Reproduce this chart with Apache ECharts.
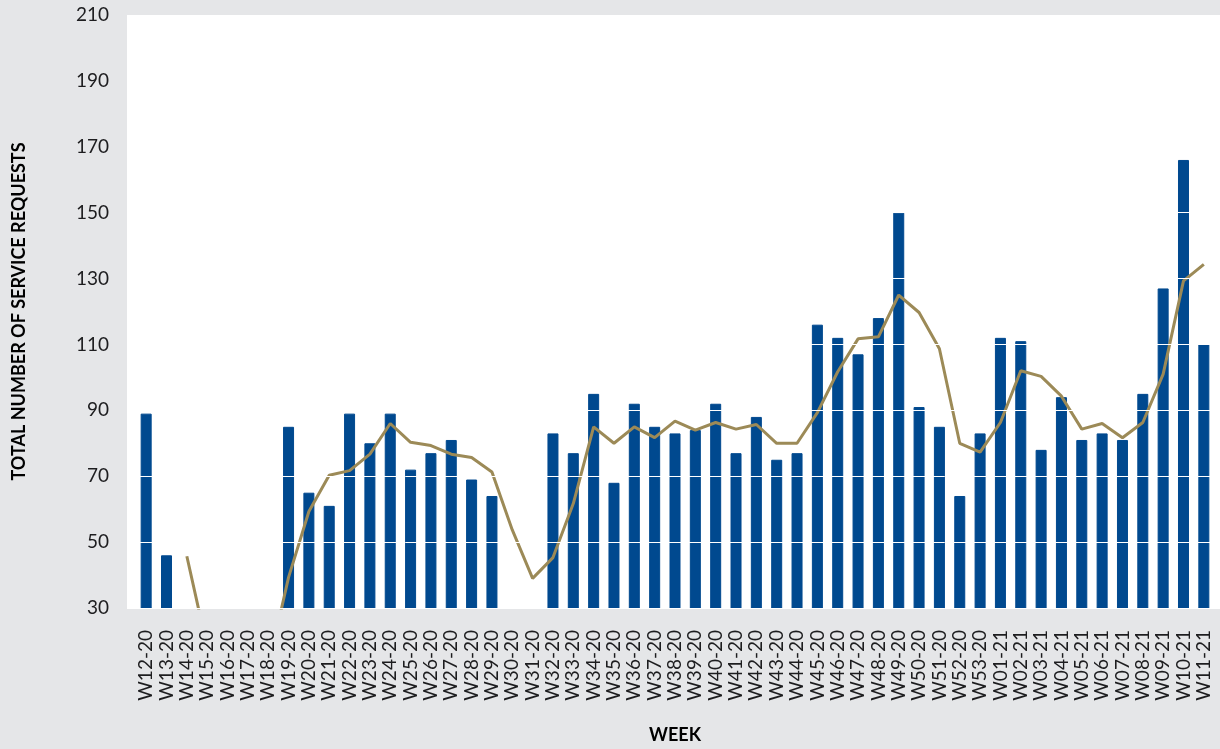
<!DOCTYPE html>
<html>
<head>
<meta charset="utf-8">
<title>Service requests per week</title>
<script src="https://cdn.jsdelivr.net/npm/echarts@6/dist/echarts.min.js"></script>
<style>
  html, body { margin: 0; padding: 0; background: #e5e6e8; }
  #chart { width: 1220px; height: 749px; }
</style>
</head>
<body>
<div id="chart"></div>
<script>
// Week labels along the category axis
const weeks = [
  'W12-20', 'W13-20', 'W14-20', 'W15-20', 'W16-20', 'W17-20', 'W18-20', 'W19-20',
  'W20-20', 'W21-20', 'W22-20', 'W23-20', 'W24-20', 'W25-20', 'W26-20', 'W27-20',
  'W28-20', 'W29-20', 'W30-20', 'W31-20', 'W32-20', 'W33-20', 'W34-20', 'W35-20',
  'W36-20', 'W37-20', 'W38-20', 'W39-20', 'W40-20', 'W41-20', 'W42-20', 'W43-20',
  'W44-20', 'W45-20', 'W46-20', 'W47-20', 'W48-20', 'W49-20', 'W50-20', 'W51-20',
  'W52-20', 'W53-20', 'W01-21', 'W02-21', 'W03-21', 'W04-21', 'W05-21', 'W06-21',
  'W07-21', 'W08-21', 'W09-21', 'W10-21', 'W11-21'
];

// Weekly total of service requests (bars)
const requests = [
  89, 46, 2, 6, 3, 5, 28, 85,
  65, 61, 89, 80, 89, 72, 77, 81,
  69, 64, 28, 25, 83, 77, 95, 68,
  92, 85, 83, 84, 92, 77, 88, 75,
  77, 116, 112, 107, 118, 150, 91, 85,
  64, 83, 112, 111, 78, 94, 81, 83,
  81, 95, 127, 166, 110
];

// Three-week moving average (line)
const movingAverage = [
  null, null, 45.7, 18, 3.7, 4.7, 12, 39.3,
  59.3, 70.3, 71.7, 76.7, 86, 80.3, 79.3, 76.7,
  75.7, 71.3, 53.7, 39, 45.3, 61.7, 85, 80,
  85, 81.7, 86.7, 84, 86.3, 84.3, 85.7, 80,
  80, 89.3, 101.7, 111.7, 112.3, 125, 119.7, 108.7,
  80, 77.3, 86.3, 102, 100.3, 94.3, 84.3, 86,
  81.7, 86.3, 101, 129.3, 134.3
];

// Value axis ticks
const yMin = 30;
const yMax = 210;
const yStep = 20;

const FONT = 'Lato, "Noto Sans", sans-serif';
const TEXT = '#1d1d1f';
const BAR_BLUE = '#00498f';
const AVG_GOLD = '#9c8a57';

const chart = echarts.init(document.getElementById('chart'), null, { renderer: 'canvas' });

chart.setOption({
  backgroundColor: '#e5e6e8',
  animation: false,
  textStyle: { fontFamily: FONT },
  graphic: {
    elements: [{
      // white plotting panel behind the grid
      type: 'rect',
      z: -10,
      silent: true,
      shape: { x: 127, y: 15, width: 1093, height: 594 },
      style: { fill: '#ffffff' }
    }]
  },
  grid: {
    left: 136,
    right: 6,
    top: 15,
    bottom: 140,
    containLabel: false
  },
  xAxis: {
    type: 'category',
    data: weeks,
    boundaryGap: true,
    axisLine: { show: false },
    axisTick: { show: false },
    axisLabel: {
      interval: 0,
      rotate: 90,
      margin: 22,
      fontSize: 19,
      color: TEXT,
      fontFamily: FONT
    },
    name: 'WEEK',
    nameLocation: 'middle',
    nameGap: 118,
    nameTextStyle: { fontSize: 18, fontWeight: 'bold', color: '#000', fontFamily: FONT }
  },
  yAxis: {
    type: 'value',
    min: yMin,
    max: yMax,
    interval: yStep,
    // keep the white gridlines above the bars and the line
    z: 10,
    axisLine: { show: false },
    axisTick: { show: false },
    splitLine: { show: true, lineStyle: { color: '#ffffff', width: 1 } },
    axisLabel: {
      margin: 27,
      fontSize: 19,
      color: TEXT,
      fontFamily: FONT
    },
    name: 'TOTAL NUMBER OF SERVICE REQUESTS',
    nameLocation: 'middle',
    nameGap: 108,
    nameTextStyle: { fontSize: 18, fontWeight: 'bold', color: '#000', fontFamily: FONT }
  },
  series: [
    {
      name: 'Service requests',
      type: 'bar',
      data: requests,
      barWidth: 11,
      z: 2,
      itemStyle: { color: BAR_BLUE, borderColor: BAR_BLUE, borderWidth: 1 }
    },
    {
      name: '3-week moving average',
      type: 'line',
      data: movingAverage,
      z: 3,
      showSymbol: false,
      symbol: 'none',
      smooth: false,
      connectNulls: false,
      lineStyle: { color: AVG_GOLD, width: 3 }
    }
  ]
});
</script>
</body>
</html>
